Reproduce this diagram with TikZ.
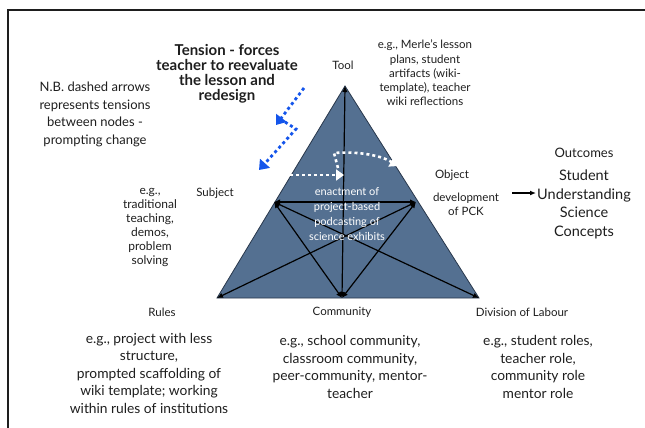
\documentclass[tikz,border=0pt]{standalone}
\usepackage{fontspec}
\setmainfont{Lato}
\usetikzlibrary{arrows.meta}
\definecolor{tribg}{RGB}{84,112,145}
\definecolor{triedge}{RGB}{40,55,75}
\definecolor{tblue}{RGB}{20,85,235}
\definecolor{ink}{RGB}{30,30,30}
\tikzset{
  lab/.style={align=center, inner sep=0pt, text=ink, font=\fontsize{11.5}{14}\selectfont},
  exa/.style={align=center, inner sep=0pt, text=ink, font=\fontsize{13.8}{17.5}\selectfont},
  small/.style={align=center, inner sep=0pt, text=ink, font=\fontsize{11.5}{14.2}\selectfont},
  subex/.style={align=center, inner sep=0pt, text=ink, font=\fontsize{12}{14}\selectfont},
  tens/.style={align=center, inner sep=0pt, text=ink, font=\fontsize{15}{15}\selectfont\bfseries},
  nb/.style={align=center, inner sep=0pt, text=ink, font=\fontsize{13}{17.7}\selectfont},
  outc/.style={align=center, inner sep=0pt, text=ink, font=\fontsize{14.5}{18.5}\selectfont},
  inner/.style={align=center, inner sep=0pt, text=white, font=\fontsize{11}{14.8}\selectfont},
  arr/.style={{Latex[length=6pt,width=5.5pt]}-{Latex[length=6pt,width=5.5pt]}, line width=1.2pt, draw=black},
  wdot/.style={draw=white, line width=2.6pt, dash pattern=on 3pt off 3pt, -{Triangle[length=8pt,width=11pt,fill=white]}},
  bdot/.style={draw=tblue, line width=2.8pt, dash pattern=on 3pt off 3pt, -{Triangle[length=9pt,width=13pt,fill=tblue]}},
}
\begin{document}
\begin{tikzpicture}[x=1pt,y=-1pt]
\useasboundingbox (0,0) rectangle (645,428);
\draw[ink, line width=2pt] (8,428) -- (8,10) -- (645,10);

% triangle vertices
\coordinate (tool) at (345,86);
\coordinate (rules) at (217,298);
\coordinate (div) at (479,298);
\coordinate (comm) at (342,298);
\coordinate (subj) at (274,202);
\coordinate (obj) at (416,202);

\filldraw[fill=tribg, draw=triedge, line width=0.8pt] (tool) -- (rules) -- (div) -- cycle;

\draw[arr] (comm) -- (tool);
\draw[arr] (subj) -- (obj);
\draw[arr] (subj) -- (div);
\draw[arr] (obj) -- (rules);
\draw[arr] (subj) -- (comm);
\draw[arr] (obj) -- (comm);

\node[inner] (enact) at (347,214) {enactment of\\project-based\\podcasting of\\science exhibits};

% white dotted tension arrows
\coordinate (w1a) at (290,175);
\coordinate (w1b) at (344,175);
\draw[wdot] (w1a) -- (w1b);
\coordinate (w2a) at (338,168);
\coordinate (w2m) at (334,153);
\coordinate (w2b) at (398,166);
\draw[wdot] (w2a) -- (w2m) .. controls (360,151) and (382,156) .. (w2b);

% blue dotted tension arrows
\coordinate (b1a) at (304,88);
\coordinate (b1b) at (276,125);
\draw[bdot] (b1a) -- (b1b);
\coordinate (b2a) at (285,122);
\coordinate (b2m) at (296,129);
\coordinate (b2b) at (259,170);
\draw[bdot] (b2a) -- (b2m) -- (b2b);

% labels
\node[tens] (tension) at (227,73.5) {Tension - forces\\teacher to reevaluate\\the lesson and\\redesign};
\node[nb] (nbnote) at (95,114.5) {N.B. dashed arrows\\represents tensions\\between nodes -\\prompting change};
\node[lab] (toollab) at (343,65) {Tool};
\node[small] (toolex) at (425,73) {e.g., Merle's lesson\\plans, student\\artifacts (wiki-\\template), teacher\\wiki reflections};
\node[lab] (subjlab) at (215,193) {Subject};
\node[subex] (subjex) at (150,227.5) {e.g.,\\traditional\\teaching,\\demos,\\problem\\solving};
\node[lab] (objlab) at (452,175) {Object};
\node[lab] (objex) at (466,204.5) {development\\of PCK};
\node[lab, font=\fontsize{13}{16}\selectfont] (outlab) at (584,153) {Outcomes};
\node[outc] (outex) at (584,204.5) {Student\\Understanding\\Science\\Concepts};
\coordinate (oa) at (512,193);
\coordinate (ob) at (536,193);
\draw[-{Latex[length=6pt,width=5pt]}, line width=1.2pt] (oa) -- (ob);
\node[lab] (ruleslab) at (162,312) {Rules};
\node[lab] (commlab) at (342,312) {Community};
\node[lab] (divlab) at (522,312) {Division of Labour};
\node[exa] (rulesex) at (149,373) {e.g., project with less\\structure,\\prompted scaffolding of\\wiki template; working\\within rules of institutions};
\node[exa] (commex) at (350,367) {e.g., school community,\\classroom community,\\peer-community, mentor-\\teacher};
\node[exa] (divex) at (538,367) {e.g., student roles,\\teacher role,\\community role\\mentor role};
\end{tikzpicture}
\end{document}
